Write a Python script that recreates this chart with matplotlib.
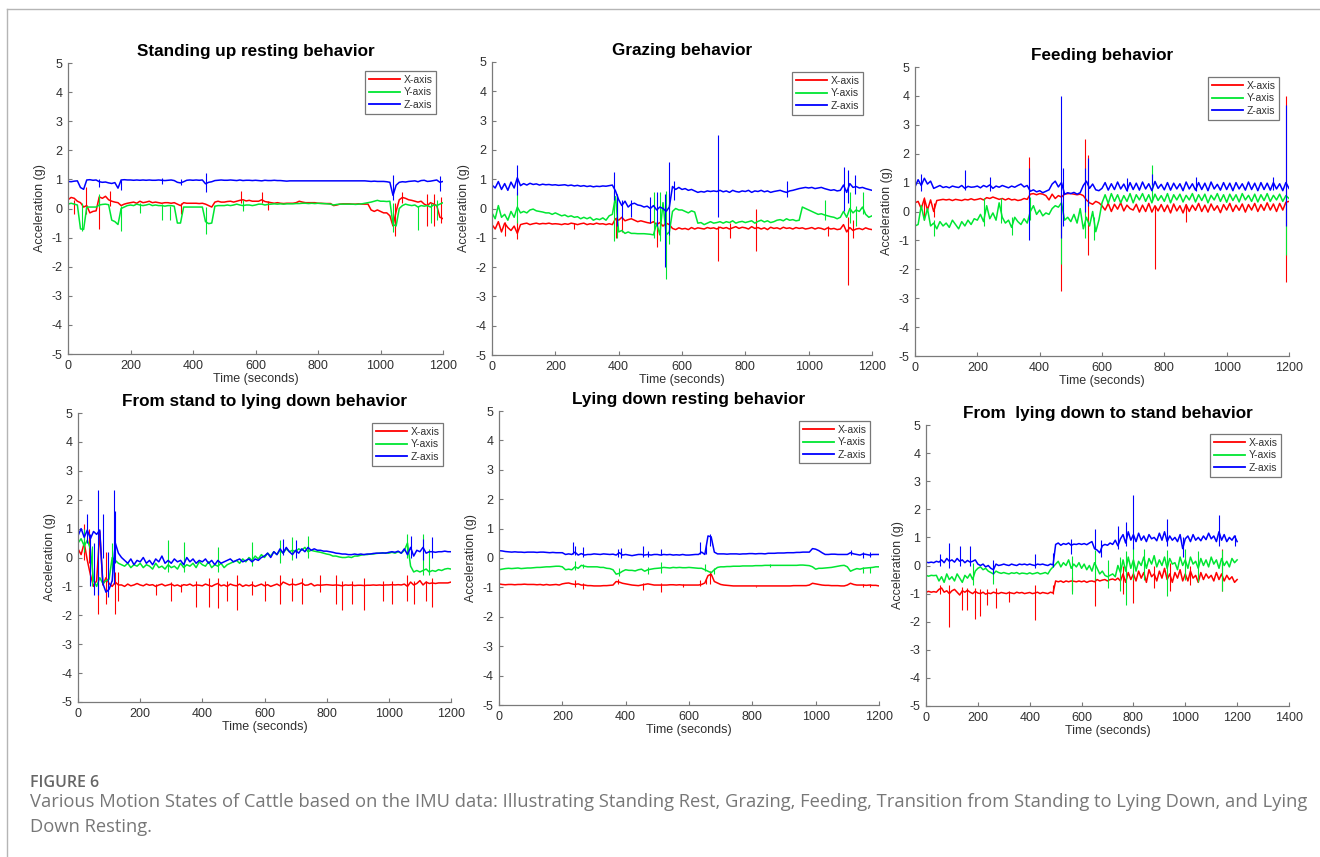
import numpy as np
import matplotlib
matplotlib.use("Agg")
import matplotlib.pyplot as plt
from matplotlib.lines import Line2D

plt.rcParams['font.family'] = ['Liberation Sans', 'DejaVu Sans']
plt.rcParams['axes.unicode_minus'] = False

W, H = 1320, 857

# ---------------- data ----------------
time_s = np.arange(0, 1210, 10)  # sampling grid used for the traces, seconds

titles = ["Standing up resting behavior", "Grazing behavior", "Feeding behavior",
          "From stand to lying down behavior", "Lying down resting behavior",
          "From  lying down to stand behavior"]
series_names = ["X-axis", "Y-axis", "Z-axis"]

# Panel 1: standing up resting
p1_x = [0.30, 0.38, 0.35, 0.25, 0.20, 0.05, 0.10, -0.15, -0.10, -0.08,
        0.40, 0.35, 0.42, 0.30, 0.25, 0.22, 0.20, 0.10, 0.15, 0.18,
        0.20, 0.22, 0.18, 0.25, 0.20, 0.22, 0.25, 0.20, 0.22, 0.20,
        0.18, 0.20, 0.20, 0.18, 0.20, 0.15, 0.10, 0.20, 0.18, 0.18,
        0.18, 0.18, 0.17, 0.18, 0.15, 0.10, 0.05, 0.22, 0.25, 0.22,
        0.22, 0.24, 0.25, 0.22, 0.25, 0.28, 0.30, 0.26, 0.28, 0.25,
        0.25, 0.25, 0.30, 0.24, 0.22, 0.20, 0.18, 0.20, 0.18, 0.17,
        0.18, 0.18, 0.18, 0.20, 0.25, 0.22, 0.20, 0.20, 0.20, 0.20,
        0.18, 0.18, 0.17, 0.17, 0.17, 0.10, 0.12, 0.15, 0.16, 0.16,
        0.16, 0.15, 0.15, 0.16, 0.15, 0.15, 0.15, -0.05, -0.10, -0.05,
        -0.10, -0.15, -0.15, -0.25, -0.60, -0.10, 0.30, 0.38, 0.35, 0.30,
        0.28, 0.25, 0.22, 0.25, 0.15, 0.10, 0.20, 0.15, 0.10, -0.30,
        -0.35]
p1_y = [0.15, 0.18, 0.15, 0.12, -0.70, -0.72, 0.05, 0.05, 0.05, 0.05,
        0.12, 0.14, 0.15, 0.13, -0.40, -0.45, -0.55, 0.00, 0.05, 0.10,
        0.12, 0.10, 0.15, 0.12, 0.10, 0.12, 0.15, 0.10, 0.12, 0.10,
        0.10, 0.08, 0.10, 0.10, 0.08, -0.50, -0.50, 0.05, 0.05, 0.05,
        0.05, 0.05, 0.05, 0.05, -0.45, -0.52, -0.50, 0.08, 0.10, 0.10,
        0.10, 0.12, 0.10, 0.12, 0.15, 0.12, 0.10, 0.12, 0.12, 0.10,
        0.12, 0.15, 0.15, 0.12, 0.14, 0.15, 0.16, 0.15, 0.16, 0.15,
        0.16, 0.16, 0.16, 0.17, 0.17, 0.18, 0.18, 0.17, 0.18, 0.17,
        0.18, 0.17, 0.17, 0.16, 0.15, 0.12, 0.14, 0.15, 0.15, 0.15,
        0.15, 0.15, 0.14, 0.15, 0.16, 0.18, 0.20, 0.22, 0.25, 0.28,
        0.25, 0.25, 0.24, 0.25, -0.55, -0.60, 0.00, 0.10, 0.15, 0.12,
        0.10, 0.12, 0.05, 0.10, 0.08, 0.10, 0.05, 0.12, 0.10, 0.15,
        0.20]
p1_z = [0.93, 0.92, 0.94, 0.95, 0.72, 0.66, 0.98, 0.99, 0.97, 0.98,
        0.92, 0.90, 0.91, 0.88, 0.86, 0.89, 0.70, 0.98, 0.99, 0.98,
        0.98, 0.97, 0.98, 0.97, 0.98, 0.97, 0.98, 0.97, 0.97, 0.98,
        0.97, 0.96, 0.97, 0.98, 0.96, 0.90, 0.88, 0.92, 0.97, 0.98,
        0.97, 0.98, 0.97, 0.98, 0.85, 0.90, 0.92, 0.96, 0.97, 0.98,
        0.97, 0.97, 0.98, 0.97, 0.96, 0.98, 0.96, 0.97, 0.97, 0.96,
        0.97, 0.96, 0.95, 0.97, 0.96, 0.96, 0.97, 0.96, 0.96, 0.95,
        0.94, 0.95, 0.95, 0.95, 0.95, 0.95, 0.95, 0.95, 0.95, 0.95,
        0.95, 0.95, 0.95, 0.95, 0.95, 0.95, 0.95, 0.95, 0.95, 0.95,
        0.95, 0.95, 0.95, 0.95, 0.95, 0.95, 0.94, 0.93, 0.94, 0.93,
        0.93, 0.93, 0.92, 0.90, 0.45, 0.80, 0.90, 0.92, 0.91, 0.93,
        0.94, 0.95, 0.92, 0.96, 0.97, 0.93, 0.94, 0.96, 0.98, 0.90,
        0.93]
p1_x_spikes = [(58, -0.2, 0.75), (100, -0.7, 0.4), (20, -0.2, 0.3), (135, 0.1, 0.6),
               (360, -0.2, 0.2), (555, 0.2, 0.6), (620, 0.2, 0.55), (640, -0.05, 0.25),
               (1045, -0.95, 0.2), (1150, -0.6, 0.5), (1170, -0.6, 0.5),
               (1195, -0.5, 0.4), (1070, 0.2, 0.55)]
p1_y_spikes = [(170, -0.78, 0.1), (100, 0.05, 0.5), (45, -0.78, 0.2), (300, -0.4, 0.15),
               (325, -0.4, 0.1), (230, -0.15, 0.2), (440, -0.88, 0.05), (560, -0.1, 0.3),
               (1040, -0.8, 0.2), (1120, -0.75, 0.1), (1160, -0.5, 0.2), (1180, -0.4, 0.3)]
p1_z_spikes = [(440, 0.55, 1.22), (1040, 0.3, 1.15), (100, 0.75, 1.0), (170, 0.65, 0.98),
               (1190, 0.6, 1.1), (360, 0.82, 1.0), (300, 0.85, 1.05)]

# Panel 2: grazing
p2_x = [-0.55, -0.70, -0.45, -0.80, -0.50, -0.65, -0.75, -0.60, -0.85, -0.55,
        -0.52, -0.50, -0.55, -0.52, -0.50, -0.53, -0.51, -0.52, -0.50, -0.53,
        -0.52, -0.53, -0.55, -0.52, -0.54, -0.50, -0.52, -0.55, -0.52, -0.50,
        -0.55, -0.52, -0.54, -0.50, -0.53, -0.52, -0.55, -0.52, -0.55, -0.35,
        -0.40, -0.30, -0.42, -0.38, -0.35, -0.40, -0.45, -0.42, -0.45, -0.48,
        -0.50, -0.45, -0.55, -0.48, -0.60, -0.50, -0.55, -0.68, -0.72, -0.66,
        -0.70, -0.68, -0.72, -0.65, -0.70, -0.66, -0.68, -0.70, -0.65, -0.68,
        -0.66, -0.70, -0.64, -0.68, -0.65, -0.70, -0.66, -0.62, -0.68, -0.64,
        -0.66, -0.70, -0.62, -0.68, -0.65, -0.70, -0.66, -0.72, -0.64, -0.68,
        -0.66, -0.70, -0.64, -0.68, -0.66, -0.70, -0.65, -0.68, -0.66, -0.70,
        -0.68, -0.65, -0.70, -0.66, -0.68, -0.72, -0.66, -0.70, -0.68, -0.72,
        -0.70, -0.55, -0.80, -0.65, -0.75, -0.70, -0.68, -0.72, -0.66, -0.70,
        -0.72]
p2_y = [-0.15, -0.35, 0.10, -0.30, -0.20, -0.40, -0.10, -0.30, 0.05, -0.15,
        -0.10, -0.15, -0.05, -0.02, -0.08, -0.10, -0.12, -0.15, -0.15, -0.20,
        -0.15, -0.20, -0.25, -0.22, -0.28, -0.25, -0.30, -0.28, -0.35, -0.30,
        -0.35, -0.30, -0.40, -0.35, -0.38, -0.32, -0.40, -0.25, -0.20, 0.40,
        -0.80, -0.75, -0.85, -0.80, -0.85, -0.85, -0.86, -0.86, -0.86, -0.87,
        -0.88, -0.90, -0.50, -0.90, 0.20, -0.90, -0.80, -0.10, 0.00, -0.05,
        -0.05, -0.10, -0.15, -0.08, -0.12, -0.50, -0.48, -0.55, -0.50, -0.45,
        -0.50, -0.48, -0.45, -0.50, -0.45, -0.48, -0.42, -0.50, -0.46, -0.44,
        -0.48, -0.45, -0.42, -0.50, -0.44, -0.40, -0.46, -0.42, -0.48, -0.45,
        -0.40, -0.38, -0.42, -0.35, -0.40, -0.38, -0.42, -0.40, 0.05, 0.00,
        -0.05, -0.10, -0.15, -0.20, -0.18, -0.22, -0.25, -0.28, -0.30, -0.35,
        -0.30, -0.10, -0.30, 0.00, -0.15, -0.05, -0.10, 0.05, -0.20, -0.30,
        -0.25]
p2_z = [0.80, 0.70, 0.92, 0.65, 0.85, 0.62, 0.90, 0.70, 1.05, 0.78,
        0.85, 0.80, 0.86, 0.82, 0.84, 0.80, 0.83, 0.81, 0.82, 0.80,
        0.81, 0.79, 0.80, 0.81, 0.78, 0.80, 0.77, 0.79, 0.76, 0.78,
        0.75, 0.77, 0.74, 0.76, 0.75, 0.77, 0.76, 0.78, 0.80, 0.60,
        0.30, 0.10, 0.25, 0.05, 0.15, 0.18, 0.12, 0.10, 0.05, 0.08,
        0.00, 0.10, -0.05, 0.05, 0.00, -0.10, 0.05, 0.75, 0.65, 0.72,
        0.65, 0.68, 0.62, 0.65, 0.60, 0.55, 0.58, 0.56, 0.60, 0.58,
        0.60, 0.58, 0.62, 0.57, 0.60, 0.55, 0.62, 0.58, 0.56, 0.60,
        0.58, 0.62, 0.55, 0.60, 0.58, 0.62, 0.57, 0.60, 0.55, 0.58,
        0.60, 0.62, 0.58, 0.55, 0.60, 0.62, 0.65, 0.68, 0.70, 0.72,
        0.70, 0.72, 0.68, 0.70, 0.72, 0.68, 0.65, 0.62, 0.64, 0.60,
        0.62, 0.80, 0.55, 0.85, 0.72, 0.75, 0.70, 0.72, 0.68, 0.65,
        0.62]
p2_x_spikes = [(80, -1.05, -0.4), (40, -0.95, -0.45), (260, -0.7, -0.5), (390, -1.0, -0.3),
               (410, -0.8, -0.3), (520, -1.3, -0.4), (530, -0.9, -0.3), (715, -1.8, -0.6),
               (750, -1.0, -0.5), (835, -1.45, 0.0), (1060, -0.95, -0.6),
               (1125, -2.6, -0.3), (1140, -1.0, -0.4)]
p2_y_spikes = [(80, -0.5, 0.55), (385, -1.1, 0.55), (395, -1.0, 0.3), (510, -1.0, 0.55),
               (530, -1.1, 0.55), (550, -2.4, 0.6), (560, -1.2, 0.5), (1130, -0.5, 0.55),
               (1170, -0.2, 0.55), (1150, -0.6, 0.1), (1050, -0.4, 0.3)]
p2_z_spikes = [(80, 0.45, 1.5), (385, 0.3, 1.25), (395, -0.6, 0.5), (410, -0.35, 0.3),
               (440, -0.3, 0.3), (545, -2.0, 0.5), (560, -0.9, 1.6), (575, 0.3, 0.95),
               (715, -0.3, 2.5), (930, 0.4, 0.95), (1110, -0.1, 1.4), (1125, 0.2, 1.3),
               (1145, 0.5, 1.15), (500, -0.5, 0.4), (520, -0.6, 0.55)]

# Panel 3: feeding
p3_x = [0.30, 0.35, 0.10, 0.45, 0.05, 0.40, 0.00, 0.38, 0.40, 0.42,
        0.40, 0.42, 0.38, 0.42, 0.40, 0.38, 0.42, 0.40, 0.44, 0.40,
        0.42, 0.45, 0.40, 0.48, 0.45, 0.50, 0.46, 0.42, 0.45, 0.40,
        0.45, 0.40, 0.42, 0.38, 0.40, 0.45, 0.42, 0.60, 0.62, 0.58,
        0.62, 0.60, 0.55, 0.40, 0.60, 0.45, 0.55, 0.50, 0.60, 0.62,
        0.62, 0.60, 0.58, 0.60, 0.55, 0.40, 0.30, 0.25, 0.35, 0.30,
        0.20, 0.05, 0.28, 0.00, 0.25, 0.08, 0.30, 0.02, 0.22, 0.10,
        0.05, 0.25, -0.02, 0.22, 0.00, 0.28, -0.02, 0.20, 0.02, 0.24,
        0.00, 0.22, -0.05, 0.26, 0.02, 0.20, -0.05, 0.24, 0.00, 0.22,
        0.04, 0.28, 0.00, 0.22, -0.02, 0.26, 0.04, 0.20, -0.04, 0.24,
        0.05, 0.28, 0.00, 0.22, 0.04, 0.26, -0.02, 0.24, 0.05, 0.28,
        0.00, 0.24, 0.04, 0.30, 0.05, 0.26, 0.00, 0.28, 0.05, 0.32,
        0.35]
p3_y = [-0.50, -0.45, 0.20, -0.30, 0.10, -0.50, -0.40, -0.60, -0.35, -0.50,
        -0.40, -0.55, -0.30, -0.45, -0.60, -0.35, -0.50, -0.30, -0.45, -0.25,
        -0.30, -0.10, -0.35, 0.20, -0.25, -0.05, -0.30, 0.30, -0.20, -0.40,
        -0.30, -0.55, -0.20, -0.35, -0.45, -0.25, -0.40, 0.00, 0.20, -0.10,
        0.05, -0.15, -0.05, -0.10, 0.10, 0.20, 0.15, 0.30, -0.30, -0.20,
        -0.35, -0.10, -0.40, 0.10, -0.60, -0.20, -0.50, 0.00, -0.70, -0.30,
        0.30, 0.58, 0.28, 0.62, 0.35, 0.58, 0.30, 0.55, 0.35, 0.62,
        0.30, 0.58, 0.40, 0.62, 0.35, 0.58, 0.30, 0.60, 0.38, 0.55,
        0.35, 0.62, 0.30, 0.58, 0.40, 0.60, 0.33, 0.56, 0.40, 0.62,
        0.33, 0.58, 0.38, 0.60, 0.30, 0.56, 0.40, 0.62, 0.35, 0.58,
        0.32, 0.60, 0.38, 0.58, 0.33, 0.62, 0.40, 0.56, 0.35, 0.60,
        0.33, 0.58, 0.38, 0.62, 0.35, 0.56, 0.40, 0.60, 0.35, 0.55,
        0.45]
p3_z = [0.85, 1.10, 0.90, 1.15, 0.95, 1.05, 0.80, 0.85, 0.90, 0.83,
        0.86, 0.82, 0.88, 0.85, 0.83, 0.90, 0.80, 0.87, 0.84, 0.85,
        0.88, 0.82, 0.90, 0.85, 0.92, 0.80, 0.88, 0.84, 0.90, 0.86,
        0.82, 0.88, 0.84, 0.90, 0.95, 0.85, 0.90, 0.70, 0.75, 0.68,
        0.72, 0.65, 0.70, 0.75, 0.95, 1.05, 0.85, 1.00, 0.60, 0.65,
        0.62, 0.66, 0.60, 0.65, 0.90, 1.05, 0.80, 0.95, 0.75, 0.72,
        0.80, 1.00, 0.74, 0.96, 0.76, 1.02, 0.78, 0.95, 0.72, 1.00,
        0.76, 0.98, 0.74, 1.02, 0.78, 0.96, 0.72, 1.04, 0.80, 0.94,
        0.75, 1.00, 0.74, 0.98, 0.78, 0.96, 0.72, 1.02, 0.78, 0.96,
        0.74, 1.00, 0.76, 0.98, 0.72, 1.02, 0.78, 0.94, 0.74, 1.00,
        0.76, 0.98, 0.72, 1.00, 0.78, 0.96, 0.74, 1.02, 0.76, 0.98,
        0.72, 1.00, 0.76, 0.98, 0.74, 1.00, 0.78, 0.96, 0.72, 1.00,
        0.80]
p3_x_spikes = [(365, 0.3, 1.9), (470, -2.75, 0.6), (545, 0.4, 2.5), (555, -1.5, 1.95),
               (770, -2.0, 0.2), (1190, -2.45, 4.0), (30, -0.3, 0.5), (60, -0.2, 0.3),
               (870, -0.35, 0.2)]
p3_y_spikes = [(60, -0.85, -0.3), (220, -0.5, 0.45), (275, -0.4, 0.45), (310, -0.8, -0.2),
               (370, -0.3, 0.5), (470, -1.8, 0.3), (545, -0.9, 0.5), (575, -1.0, -0.2),
               (760, 0.4, 1.6), (1190, -1.5, 0.6)]
p3_z_spikes = [(20, 0.7, 1.3), (160, 0.75, 1.45), (240, 0.7, 1.2), (365, -1.0, 1.5),
               (470, -0.9, 4.0), (475, -0.5, 1.5), (545, 0.0, 1.5), (555, 0.2, 1.85),
               (760, 0.9, 1.3), (1190, -0.5, 3.7), (1150, 0.75, 1.2), (680, 0.7, 1.15),
               (900, 0.7, 1.2)]

# Panel 4: from stand to lying down
p4_x = [0.30, 0.10, 0.50, -0.10, -0.60, -1.00, -0.80, 0.90, -0.95, -0.70,
        -0.90, -1.00, -0.85, -0.95, -0.95, -1.00, -0.92, -0.98, -0.95, -0.90,
        -0.95, -0.98, -0.92, -0.96, -0.94, -1.00, -0.95, -0.92, -0.98, -0.95,
        -0.92, -0.98, -0.95, -1.00, -0.94, -0.96, -0.92, -0.98, -0.95, -0.96,
        -0.98, -0.92, -0.96, -1.00, -0.94, -0.90, -0.98, -0.95, -1.00, -0.92,
        -0.96, -0.98, -0.92, -1.00, -0.95, -0.98, -0.94, -1.00, -0.96, -0.92,
        -0.98, -0.94, -1.00, -0.96, -0.92, -0.98, -0.85, -0.90, -0.95, -0.92,
        -0.95, -0.92, -0.88, -0.96, -0.95, -0.90, -0.98, -0.95, -0.96, -0.95,
        -0.94, -0.95, -0.96, -0.95, -0.96, -0.98, -0.95, -0.96, -0.95, -0.97,
        -0.96, -0.96, -0.97, -0.96, -0.96, -0.95, -0.96, -0.95, -0.96, -0.95,
        -0.95, -0.94, -0.95, -0.94, -0.95, -0.92, -1.00, -0.85, -0.95, -0.90,
        -0.80, -0.95, -0.85, -0.90, -0.88, -0.90, -0.88, -0.88, -0.88, -0.88,
        -0.85]
p4_y = [0.50, 0.65, 0.40, 0.60, 0.30, -0.80, -1.00, -0.70, -0.90, -0.80,
        -0.75, 0.00, -0.10, -0.20, -0.25, -0.30, -0.20, -0.35, -0.25, -0.30,
        -0.20, -0.35, -0.25, -0.30, -0.40, -0.20, -0.35, -0.30, -0.40, -0.25,
        -0.35, -0.30, -0.40, -0.20, -0.35, -0.25, -0.30, -0.20, -0.35, -0.15,
        -0.25, -0.30, -0.15, -0.35, -0.25, -0.30, -0.20, -0.35, -0.25, -0.20,
        -0.15, -0.10, -0.20, -0.05, -0.15, 0.00, -0.10, 0.05, -0.05, 0.10,
        0.00, 0.15, 0.05, 0.20, 0.10, 0.25, 0.15, 0.30, 0.20, 0.25,
        0.20, 0.30, 0.25, 0.35, 0.20, 0.25, 0.22, 0.20, 0.18, 0.15,
        0.12, 0.10, 0.05, 0.05, 0.02, 0.00, 0.00, 0.02, 0.00, 0.05,
        0.05, 0.08, 0.10, 0.10, 0.12, 0.12, 0.14, 0.15, 0.15, 0.16,
        0.15, 0.18, 0.15, 0.20, 0.15, 0.25, 0.50, -0.30, -0.50, -0.45,
        -0.50, -0.45, -0.40, -0.50, -0.45, -0.48, -0.42, -0.45, -0.40, -0.38,
        -0.40]
p4_z = [0.75, 1.00, 0.70, 0.95, 0.65, 0.90, 0.80, 0.95, -0.90, -1.20,
        -1.10, -0.80, 0.50, 0.15, 0.00, -0.10, -0.20, -0.05, -0.25, -0.10,
        -0.15, 0.00, -0.20, -0.10, -0.25, -0.05, -0.15, 0.05, -0.20, -0.10,
        -0.20, -0.05, -0.15, -0.10, -0.25, 0.00, -0.15, -0.05, -0.20, -0.10,
        -0.15, -0.05, -0.20, -0.10, -0.25, -0.10, -0.20, -0.15, -0.10, -0.05,
        -0.15, -0.10, -0.05, -0.15, -0.10, -0.05, -0.15, -0.05, -0.10, 0.00,
        0.05, 0.15, 0.00, 0.20, 0.10, 0.30, 0.15, 0.35, 0.20, 0.10,
        0.25, 0.15, 0.30, 0.20, 0.35, 0.25, 0.30, 0.25, 0.25, 0.22,
        0.22, 0.20, 0.18, 0.15, 0.14, 0.12, 0.12, 0.10, 0.10, 0.12,
        0.10, 0.12, 0.10, 0.12, 0.12, 0.14, 0.15, 0.15, 0.16, 0.15,
        0.18, 0.20, 0.18, 0.22, 0.15, 0.30, 0.10, 0.35, 0.05, 0.25,
        0.20, 0.35, 0.15, 0.20, 0.20, 0.18, 0.20, 0.20, 0.22, 0.20,
        0.20]
p4_x_spikes = [(20, -0.1, 1.15), (35, -0.2, 1.0), (65, -1.95, -0.5), (90, -1.6, 0.2),
               (120, -1.95, -0.5), (130, -1.5, -0.5), (250, -1.3, -0.9), (300, -1.5, -0.85),
               (330, -1.2, -0.9), (380, -1.7, -0.8), (420, -1.7, -0.7), (450, -1.75, -0.7),
               (480, -1.5, -0.8), (510, -1.8, -0.6), (560, -1.3, -0.8), (600, -1.5, -0.8),
               (650, -1.6, -0.6), (690, -1.5, -0.7), (720, -1.6, -0.7), (780, -1.2, -0.6),
               (830, -1.6, -0.6), (850, -1.8, -0.8), (880, -1.6, -0.8), (920, -1.8, -0.7),
               (980, -1.5, -0.8), (1010, -1.6, -0.8), (1060, -1.5, -0.6), (1080, -1.6, -0.8),
               (1140, -1.7, -0.7), (1120, -1.5, -0.8)]
p4_y_spikes = [(20, 0.2, 1.0), (45, -1.0, 0.4), (110, -0.8, 0.5), (290, -0.5, 0.6),
               (340, -0.5, 0.55), (450, -0.5, 0.35), (560, -0.3, 0.55), (650, -0.2, 0.6),
               (690, -0.1, 0.7), (740, 0.0, 0.75), (1060, 0.0, 0.8), (1110, -0.6, 0.8),
               (1130, -0.6, 0.3)]
p4_z_spikes = [(30, 0.5, 1.5), (65, -1.3, 2.35), (80, 0.0, 1.5), (95, -1.35, 0.2),
               (115, -0.9, 2.35), (120, -0.2, 1.6), (660, 0.1, 0.65), (700, 0.0, 0.6),
               (1070, 0.0, 0.75), (1110, -0.1, 0.65), (1140, 0.0, 0.7), (40, -1.0, 0.8),
               (50, -1.3, 0.5)]

# Panel 5: lying down resting
p5_x = [-0.88, -0.90, -0.91, -0.90, -0.90, -0.91, -0.90, -0.90, -0.89, -0.90,
        -0.90, -0.90, -0.91, -0.90, -0.92, -0.90, -0.92, -0.91, -0.90, -0.92,
        -0.88, -0.86, -0.85, -0.88, -0.90, -0.88, -0.92, -0.92, -0.94, -0.94,
        -0.95, -0.95, -0.95, -0.94, -0.94, -0.93, -0.92, -0.80, -0.82, -0.86,
        -0.88, -0.90, -0.92, -0.93, -0.94, -0.92, -0.90, -0.88, -0.90, -0.92,
        -0.92, -0.92, -0.92, -0.92, -0.91, -0.91, -0.92, -0.91, -0.92, -0.92,
        -0.92, -0.92, -0.92, -0.92, -0.90, -0.85, -0.60, -0.55, -0.80, -0.85,
        -0.90, -0.92, -0.93, -0.94, -0.95, -0.95, -0.95, -0.95, -0.95, -0.95,
        -0.95, -0.95, -0.95, -0.95, -0.95, -0.95, -0.95, -0.95, -0.95, -0.95,
        -0.95, -0.95, -0.95, -0.94, -0.94, -0.94, -0.94, -0.94, -0.92, -0.86,
        -0.88, -0.90, -0.92, -0.93, -0.93, -0.94, -0.94, -0.94, -0.95, -0.95,
        -0.92, -0.86, -0.90, -0.92, -0.92, -0.92, -0.93, -0.92, -0.93, -0.93,
        -0.95]
p5_y = [-0.40, -0.38, -0.36, -0.35, -0.36, -0.35, -0.34, -0.36, -0.35, -0.34,
        -0.34, -0.33, -0.32, -0.32, -0.31, -0.30, -0.30, -0.29, -0.28, -0.28,
        -0.30, -0.40, -0.38, -0.40, -0.30, -0.35, -0.25, -0.28, -0.30, -0.30,
        -0.30, -0.30, -0.32, -0.32, -0.35, -0.36, -0.40, -0.55, -0.52, -0.45,
        -0.40, -0.42, -0.42, -0.44, -0.40, -0.38, -0.45, -0.40, -0.38, -0.36,
        -0.35, -0.34, -0.32, -0.33, -0.34, -0.32, -0.33, -0.32, -0.33, -0.33,
        -0.32, -0.33, -0.34, -0.35, -0.35, -0.40, -0.45, -0.50, -0.40, -0.32,
        -0.30, -0.30, -0.29, -0.29, -0.28, -0.28, -0.28, -0.27, -0.27, -0.27,
        -0.27, -0.26, -0.26, -0.26, -0.25, -0.25, -0.25, -0.25, -0.25, -0.25,
        -0.25, -0.25, -0.25, -0.25, -0.25, -0.24, -0.24, -0.25, -0.26, -0.30,
        -0.38, -0.35, -0.35, -0.34, -0.33, -0.32, -0.30, -0.28, -0.26, -0.25,
        -0.30, -0.45, -0.40, -0.36, -0.38, -0.35, -0.34, -0.33, -0.32, -0.30,
        -0.30]
p5_z = [0.25, 0.24, 0.22, 0.21, 0.20, 0.21, 0.20, 0.20, 0.19, 0.20,
        0.20, 0.20, 0.19, 0.20, 0.20, 0.19, 0.18, 0.19, 0.18, 0.18,
        0.18, 0.12, 0.14, 0.12, 0.20, 0.10, 0.15, 0.10, 0.12, 0.12,
        0.14, 0.13, 0.12, 0.14, 0.13, 0.12, 0.13, 0.10, 0.18, 0.10,
        0.12, 0.10, 0.08, 0.10, 0.12, 0.12, 0.10, 0.12, 0.10, 0.12,
        0.12, 0.10, 0.12, 0.11, 0.12, 0.10, 0.11, 0.10, 0.12, 0.10,
        0.10, 0.11, 0.12, 0.12, 0.20, 0.12, 0.75, 0.72, 0.20, 0.14,
        0.14, 0.14, 0.13, 0.14, 0.14, 0.14, 0.13, 0.14, 0.14, 0.15,
        0.15, 0.14, 0.15, 0.15, 0.14, 0.16, 0.16, 0.16, 0.17, 0.17,
        0.17, 0.18, 0.18, 0.18, 0.19, 0.19, 0.20, 0.20, 0.20, 0.32,
        0.30, 0.25, 0.18, 0.12, 0.12, 0.13, 0.13, 0.12, 0.12, 0.12,
        0.12, 0.18, 0.14, 0.12, 0.10, 0.14, 0.12, 0.10, 0.12, 0.12,
        0.12]
p5_x_spikes = [(240, -1.0, -0.75), (265, -1.05, -0.85), (375, -0.9, -0.72), (455, -1.1, -0.85),
               (510, -1.17, -0.85), (580, -1.0, -0.9), (635, -0.95, -0.75), (655, -0.9, -0.7),
               (665, -0.9, -0.45), (810, -1.0, -0.95), (1150, -1.0, -0.88), (1170, -1.0, -0.88)]
p5_y_spikes = [(240, -0.4, -0.1), (265, -0.35, -0.2), (380, -0.6, -0.35), (470, -0.55, -0.3),
               (510, -0.5, -0.15), (650, -0.45, -0.2), (680, -0.55, -0.35), (1150, -0.5, -0.3),
               (1170, -0.5, -0.3), (855, -0.3, -0.2)]
p5_z_spikes = [(235, 0.15, 0.55), (240, 0.1, 0.4), (265, 0.05, 0.38), (375, 0.05, 0.3),
               (385, 0.0, 0.35), (455, 0.05, 0.4), (470, 0.05, 0.25), (510, 0.1, 0.3),
               (635, 0.12, 0.55), (655, 0.12, 0.45), (665, 0.4, 0.8), (1110, 0.1, 0.28),
               (1150, 0.0, 0.2), (1170, 0.02, 0.2)]

# Panel 6: from lying down to stand
p6_x = [-0.95, -0.92, -0.95, -0.93, -0.95, -0.85, -0.80, -0.95, -0.90, -1.00,
        -0.90, -0.85, -0.95, -1.05, -0.90, -0.95, -0.88, -0.95, -1.00, -0.92,
        -0.98, -1.00, -0.95, -1.02, -0.98, -1.00, -0.95, -0.98, -1.00, -0.96,
        -0.98, -1.00, -0.96, -0.98, -1.00, -0.95, -0.98, -0.96, -1.00, -0.98,
        -0.96, -1.00, -0.98, -0.95, -1.00, -0.96, -0.98, -1.00, -0.95, -0.98,
        -0.55, -0.58, -0.55, -0.60, -0.55, -0.58, -0.55, -0.56, -0.58, -0.55,
        -0.58, -0.55, -0.60, -0.56, -0.55, -0.58, -0.50, -0.55, -0.52, -0.50,
        -0.55, -0.50, -0.48, -0.52, -0.45, -0.55, -0.30, -0.60, -0.25, -0.50,
        -0.30, -0.55, -0.20, -0.45, -0.25, -0.60, -0.15, -0.40, -0.30, -0.55,
        -0.20, -0.45, -0.10, -0.50, -0.30, -0.60, -0.25, -0.45, -0.15, -0.55,
        -0.30, -0.55, -0.20, -0.45, -0.35, -0.60, -0.25, -0.50, -0.30, -0.45,
        -0.35, -0.55, -0.25, -0.50, -0.30, -0.55, -0.35, -0.50, -0.40, -0.60,
        -0.50]
p6_y = [-0.35, -0.38, -0.35, -0.36, -0.35, -0.55, -0.40, -0.60, -0.30, -0.50,
        -0.40, -0.55, -0.30, -0.45, -0.60, -0.35, -0.45, -0.30, -0.50, -0.20,
        -0.10, -0.05, -0.15, -0.10, -0.20, -0.25, -0.30, -0.20, -0.25, -0.28,
        -0.25, -0.28, -0.30, -0.26, -0.28, -0.25, -0.30, -0.27, -0.28, -0.30,
        -0.26, -0.30, -0.28, -0.25, -0.30, -0.28, -0.25, -0.30, -0.15, -0.05,
        0.05, 0.15, -0.05, 0.10, 0.00, 0.20, -0.10, 0.05, -0.05, 0.10,
        -0.10, 0.05, -0.15, 0.00, -0.20, 0.10, -0.10, -0.30, -0.20, -0.35,
        -0.40, -0.35, -0.30, -0.40, 0.00, -0.25, 0.20, -0.20, 0.30, -0.10,
        0.20, -0.20, 0.15, 0.00, 0.30, -0.10, 0.25, 0.05, 0.35, -0.05,
        0.20, 0.00, 0.30, -0.10, 0.25, 0.05, 0.10, -0.15, 0.30, 0.00,
        0.20, -0.10, 0.30, 0.05, 0.15, -0.10, 0.25, 0.00, 0.20, -0.05,
        0.30, 0.05, 0.20, -0.10, 0.25, 0.00, 0.15, -0.05, 0.25, 0.10,
        0.20]
p6_z = [0.12, 0.10, 0.12, 0.10, 0.15, 0.12, 0.20, 0.10, 0.25, 0.15,
        0.20, 0.12, 0.25, 0.15, 0.20, 0.10, 0.18, 0.12, 0.15, 0.20,
        0.05, 0.00, 0.05, -0.05, 0.00, -0.10, -0.15, 0.05, 0.00, 0.02,
        0.05, 0.02, 0.00, 0.05, 0.02, 0.00, 0.05, 0.03, 0.05, 0.02,
        0.05, 0.02, 0.00, 0.05, 0.03, 0.05, 0.02, 0.00, 0.05, 0.02,
        0.75, 0.80, 0.72, 0.78, 0.75, 0.80, 0.72, 0.76, 0.75, 0.78,
        0.75, 0.78, 0.74, 0.80, 0.85, 0.60, 0.55, 0.45, 0.70, 0.75,
        0.72, 0.80, 0.75, 0.90, 0.70, 0.95, 1.10, 0.80, 1.20, 0.90,
        1.10, 0.85, 1.15, 0.90, 1.05, 0.85, 1.10, 0.95, 1.00, 0.88,
        1.15, 0.90, 1.20, 0.85, 1.05, 0.90, 1.00, 0.85, 1.10, 0.60,
        0.95, 1.05, 0.85, 1.10, 0.90, 1.00, 0.88, 1.05, 0.92, 1.15,
        0.95, 1.05, 0.85, 1.20, 0.90, 1.10, 0.85, 1.00, 0.90, 1.05,
        0.85]
p6_x_spikes = [(55, -1.0, -0.7), (90, -2.2, -0.7), (140, -1.6, -0.75), (160, -1.6, -0.8),
               (190, -1.9, -0.8), (210, -1.8, -0.85), (235, -1.4, -0.85), (270, -1.5, -0.8),
               (320, -1.3, -0.9), (420, -1.95, -0.7), (490, -1.0, -0.7), (565, -0.9, -0.4),
               (650, -1.45, -0.4), (760, -1.0, 0.0), (800, -1.35, -0.2), (880, -0.8, 0.0),
               (940, -0.9, 0.1), (1140, -0.9, 0.6), (1020, -0.7, 0.0)]
p6_y_spikes = [(565, -1.0, 0.35), (650, -0.5, 0.55), (700, -0.8, 0.2), (750, -0.9, 0.3),
               (770, -1.4, 0.5), (800, -0.5, 0.65), (840, -0.5, 0.6), (930, -1.1, 0.55),
               (1000, -0.5, 0.6), (1050, -0.6, 0.5), (1140, -0.9, 0.55), (180, -0.7, 0.1),
               (260, -0.65, 0.0)]
p6_z_spikes = [(55, 0.0, 0.4), (90, -0.1, 0.8), (130, 0.0, 0.7), (170, 0.0, 0.7),
               (260, -0.3, 0.2), (420, -0.1, 0.4), (490, -0.05, 0.45), (560, 0.4, 0.95),
               (650, 0.6, 1.3), (675, 0.3, 0.9), (770, 0.7, 1.55), (800, 0.6, 2.5),
               (930, 0.7, 1.65), (990, 0.3, 1.0), (1130, 0.7, 1.8), (1190, 0.7, 1.1),
               (740, 0.6, 1.4)]

x_limits = [1200, 1200, 1200, 1200, 1200, 1400]
caption_label = "FIGURE 6"
caption_line1 = ("Various Motion States of Cattle based on the IMU data: Illustrating Standing Rest, "
                 "Grazing, Feeding, Transition from Standing to Lying Down, and Lying")
caption_line2 = "Down Resting."

# ---------------- layout (pixel boxes: left, right, top, bottom) ----------------
axes_boxes = [(68, 443, 63, 354), (492, 872, 62, 355), (915, 1289, 67, 356),
              (78, 451, 413, 702), (499, 879, 411, 705), (926, 1289, 425, 706)]
legend_corners = [(436, 71), (863, 72), (1279, 77), (443, 423), (870, 421), (1281, 434)]

panels = [
    (p1_x, p1_y, p1_z, p1_x_spikes, p1_y_spikes, p1_z_spikes),
    (p2_x, p2_y, p2_z, p2_x_spikes, p2_y_spikes, p2_z_spikes),
    (p3_x, p3_y, p3_z, p3_x_spikes, p3_y_spikes, p3_z_spikes),
    (p4_x, p4_y, p4_z, p4_x_spikes, p4_y_spikes, p4_z_spikes),
    (p5_x, p5_y, p5_z, p5_x_spikes, p5_y_spikes, p5_z_spikes),
    (p6_x, p6_y, p6_z, p6_x_spikes, p6_y_spikes, p6_z_spikes),
]
colors = ["#ff0000", "#00e632", "#0000ff"]
axis_gray = "#7a7a7a"
text_gray = "#303030"

fig = plt.figure(figsize=(W / 100, H / 100), dpi=100)
fig.patch.set_facecolor("white")

# outer frame lines
fig.add_artist(Line2D([7 / W, 1.0], [1 - 9 / H, 1 - 9 / H], color="#b5b5b5", lw=1.0,
                      transform=fig.transFigure))
fig.add_artist(Line2D([7 / W, 7 / W], [1 - 9 / H, 0.0], color="#b5b5b5", lw=1.0,
                      transform=fig.transFigure))

for i, (box, data) in enumerate(zip(axes_boxes, panels)):
    l, r, t, b = box
    ax = fig.add_axes([l / W, 1 - b / H, (r - l) / W, (b - t) / H])
    sx, sy, sz, spx, spy, spz = data
    for vals, spikes, c in zip((sx, sy, sz), (spx, spy, spz), colors):
        ax.plot(time_s, vals, color=c, lw=1.1)
        st = [s[0] for s in spikes]
        slo = [s[1] for s in spikes]
        shi = [s[2] for s in spikes]
        ax.vlines(st, slo, shi, color=c, lw=0.8)
    ax.set_xlim(0, x_limits[i])
    ax.set_ylim(-5, 5)
    ax.set_yticks(range(-5, 6))
    ax.set_xticks(range(0, x_limits[i] + 1, 200))
    for sp in ("top", "right"):
        ax.spines[sp].set_visible(False)
    for sp in ("left", "bottom"):
        ax.spines[sp].set_color(axis_gray)
        ax.spines[sp].set_linewidth(0.9)
    ax.tick_params(direction="in", length=3, width=0.8, color=axis_gray,
                   labelsize=9, labelcolor=text_gray, pad=4)
    ax.set_xlabel("Time (seconds)", fontsize=9, color=text_gray, labelpad=1)
    ax.set_ylabel("Acceleration (g)", fontsize=9, color=text_gray, labelpad=4)
    ax.set_title(titles[i], fontsize=12.3, fontweight="bold", color="black", pad=5)
    handles = [Line2D([], [], color=c, lw=1.3) for c in colors]
    lx, ly = legend_corners[i]
    leg = ax.legend(handles, series_names, loc="upper right",
                    bbox_to_anchor=(lx / W, 1 - ly / H), bbox_transform=fig.transFigure,
                    fontsize=7.5, frameon=True, fancybox=False, framealpha=1,
                    edgecolor="#777777", borderpad=0.35, labelspacing=0.25,
                    handlelength=3.0, handletextpad=0.3, borderaxespad=0)
    leg.get_frame().set_linewidth(0.9)
    for txt in leg.get_texts():
        txt.set_color(text_gray)

fig.text(30 / W, 1 - 787 / H, caption_label, fontsize=11.5, fontweight="semibold",
         color="#666666", family=["Open Sans", "DejaVu Sans"], va="baseline")
fig.text(30 / W, 1 - 807 / H, caption_line1, fontsize=13.2, color="#777777",
         family=["Open Sans", "DejaVu Sans"], va="baseline")
fig.text(30 / W, 1 - 832 / H, caption_line2, fontsize=13.2, color="#777777",
         family=["Open Sans", "DejaVu Sans"], va="baseline")

fig.savefig("out.png", dpi=100, facecolor="white")
